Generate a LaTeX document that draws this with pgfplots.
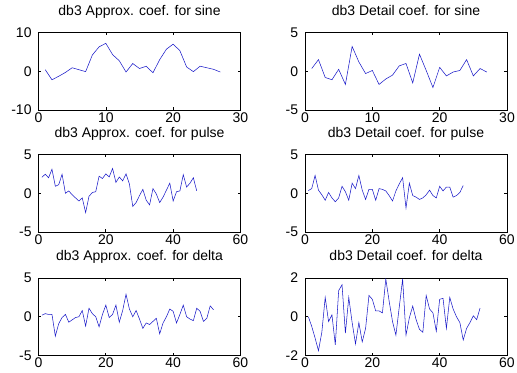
\documentclass[border=0pt]{standalone}
\usepackage{fontspec}
\setmainfont{Liberation Sans}
\usepackage{pgfplots}
\pgfplotsset{compat=1.18}
\definecolor{mblue}{RGB}{25,25,200}
\pgfplotsset{mstyle/.style={
  scale only axis, width=151.5pt, height=58.125pt, anchor=south west,
  axis line style={line width=0.5pt},
  tick align=inside, major tick length=2pt,
  every tick/.style={black, line width=0.5pt},
  /pgf/number format/assume math mode=true,
  tick label style={font=\fontsize{10.5}{12}\selectfont},
  xticklabel style={inner sep=0pt, yshift=-1.5pt},
  yticklabel style={inner sep=0pt, xshift=-5pt},
  title style={font=\fontsize{10.5}{12}\selectfont, at={(0.5,1)}, anchor=base, yshift=7pt, inner sep=0pt},
  enlargelimits=false,
  cycle list={{mblue, line width=0.75pt, no markers}},
}}
\begin{document}
\begin{tikzpicture}
\path[use as bounding box] (0,0) rectangle (387.75pt,279pt);
% top left
\begin{axis}[mstyle, at={(28.875pt,196.5pt)}, xmin=0, xmax=30, ymin=-10, ymax=10,
  xtick={0,10,20,30}, ytick={-10,0,10}, title={db3 Approx. coef. for sine}]
\addplot coordinates {(1,0.4)(2,-2.2)(3,-1.3)(4,-0.3)(5,0.9)(6,0.4)(7,-0.1)(8,4.2)(9,6.3)(10,7.2)
(11,4.3)(12,2.7)(13,-0.2)(14,2.0)(15,0.7)(16,1.3)(17,-0.4)(18,3.0)(19,5.7)(20,7.0)
(21,5.3)(22,1.1)(23,-0.1)(24,1.3)(25,0.9)(26,0.5)(27,-0.2)};
\end{axis}
% top right
\begin{axis}[mstyle, at={(228.75pt,196.5pt)}, xmin=0, xmax=30, ymin=-5, ymax=5,
  xtick={0,10,20,30}, ytick={-5,0,5}, title={db3 Detail coef. for sine}]
\addplot coordinates {(1,0.35)(2,1.5)(3,-0.8)(4,-1.1)(5,0.25)(6,-1.7)(7,3.2)(8,1.2)(9,-0.3)(10,0.1)
(11,-1.7)(12,-1.0)(13,-0.5)(14,0.7)(15,1.0)(16,-1.5)(17,2.2)(18,0.1)(19,-2.1)(20,0.5)
(21,-0.6)(22,-0.1)(23,0.1)(24,1.5)(25,-0.6)(26,0.35)(27,-0.1)};
\end{axis}
% middle left
\begin{axis}[mstyle, at={(28.875pt,105pt)}, xmin=0, xmax=60, ymin=-5, ymax=5,
  xtick={0,20,40,60}, ytick={-5,0,5}, title={db3 Approx. coef. for pulse}]
\addplot coordinates {(1,2.06)(2,2.45)(3,2.0)(4,3.1)(5,0.9)(6,1.1)(7,2.45)(8,0)(9,0.3)(10,-0.2)
(11,-0.6)(12,-1.0)(13,-0.6)(14,-2.5)(15,-0.4)(16,0.1)(17,0.2)(18,2.2)(19,1.9)(20,2.5)
(21,2.1)(22,3.2)(23,1.4)(24,2.1)(25,1.6)(26,2.5)(27,1.2)(28,-1.7)(29,-1.2)(30,-0.3)
(31,0.5)(32,-0.9)(33,-1.5)(34,0.6)(35,-0.1)(36,-1.2)(37,-0.5)(38,0.4)(39,1.3)(40,-1.0)
(41,0.2)(42,0.3)(43,2.4)(44,0.8)(45,1.3)(46,2.0)(47,0.3)};
\end{axis}
% middle right
\begin{axis}[mstyle, at={(228.75pt,105pt)}, xmin=0, xmax=60, ymin=-5, ymax=5,
  xtick={0,20,40,60}, ytick={-5,0,5}, title={db3 Detail coef. for pulse}]
\addplot coordinates {(1,0.35)(2,0.6)(3,2.3)(4,0.4)(5,-0.2)(6,-0.9)(7,0.1)(8,-0.6)(9,-1.1)(10,-0.6)
(11,0.9)(12,0.2)(13,-0.9)(14,1.3)(15,0.6)(16,2.3)(17,0.4)(18,-0.8)(19,0.5)(20,0.5)
(21,-0.9)(22,0.6)(23,0.5)(24,0.3)(25,-0.3)(26,-1.0)(27,0.3)(28,1.2)(29,2.0)(30,-1.9)
(31,1.3)(32,-0.3)(33,-0.5)(34,-0.8)(35,-0.6)(36,-0.2)(37,0.4)(38,-0.3)(39,-0.6)(40,0.9)
(41,0.3)(42,0.8)(43,0.8)(44,-0.5)(45,-0.3)(46,0.1)(47,1.0)};
\end{axis}
% bottom left
\begin{axis}[mstyle, at={(28.875pt,12.375pt)}, xmin=0, xmax=60, ymin=-5, ymax=5,
  xtick={0,20,40,60}, ytick={-5,0,5}, title={db3 Approx. coef. for delta}]
\addplot coordinates {(1,0.2)(2,0.4)(3,0.3)(4,0.3)(5,-2.5)(6,-0.9)(7,-0.1)(8,0.3)(9,-0.7)(10,-0.4)
(11,-0.1)(12,0.0)(13,0.8)(14,-1.2)(15,1.1)(16,0.4)(17,0.0)(18,-1.3)(19,0.3)(20,1.5)
(21,-0.1)(22,0.3)(23,1.5)(24,-0.7)(25,0.8)(26,2.9)(27,1.0)(28,0.0)(29,0.8)(30,-0.3)
(31,-1.5)(32,-0.8)(33,-1.0)(34,-0.6)(35,-0.2)(36,-2.2)(37,-0.8)(38,0.0)(39,1.0)(40,0.7)
(41,-0.8)(42,0.3)(43,1.5)(44,0.0)(45,-0.3)(46,-0.5)(47,1.1)(48,0.7)(49,-0.6)(50,-0.2)
(51,1.4)(52,0.9)};
\end{axis}
% bottom right
\begin{axis}[mstyle, at={(228.75pt,12.375pt)}, xmin=0, xmax=60, ymin=-2, ymax=2,
  xtick={0,20,40,60}, ytick={-2,0,2}, title={db3 Detail coef. for delta}]
\addplot coordinates {(1,0.0)(2,-0.5)(3,-1.1)(4,-1.75)(5,-0.8)(6,1.0)(7,-0.25)(8,0.1)(9,-1.45)(10,1.35)
(11,1.65)(12,-0.85)(13,1.0)(14,-0.3)(15,-1.4)(16,-0.3)(17,-1.3)(18,-0.6)(19,1.1)(20,0.9)
(21,0.3)(22,0.3)(23,0.2)(24,1.95)(25,0.8)(26,-0.25)(27,-0.95)(28,0.5)(29,1.95)(30,-0.95)
(31,-0.05)(32,0.55)(33,-0.15)(34,-0.65)(35,-0.8)(36,1.1)(37,0.4)(38,0.2)(39,-0.75)(40,0.9)
(41,0.95)(42,-0.6)(43,1.0)(44,0.4)(45,0.0)(46,-0.3)(47,-1.2)(48,-0.6)(49,-0.3)(50,0.05)
(51,-0.15)(52,0.45)};
\end{axis}
\end{tikzpicture}
\end{document}
